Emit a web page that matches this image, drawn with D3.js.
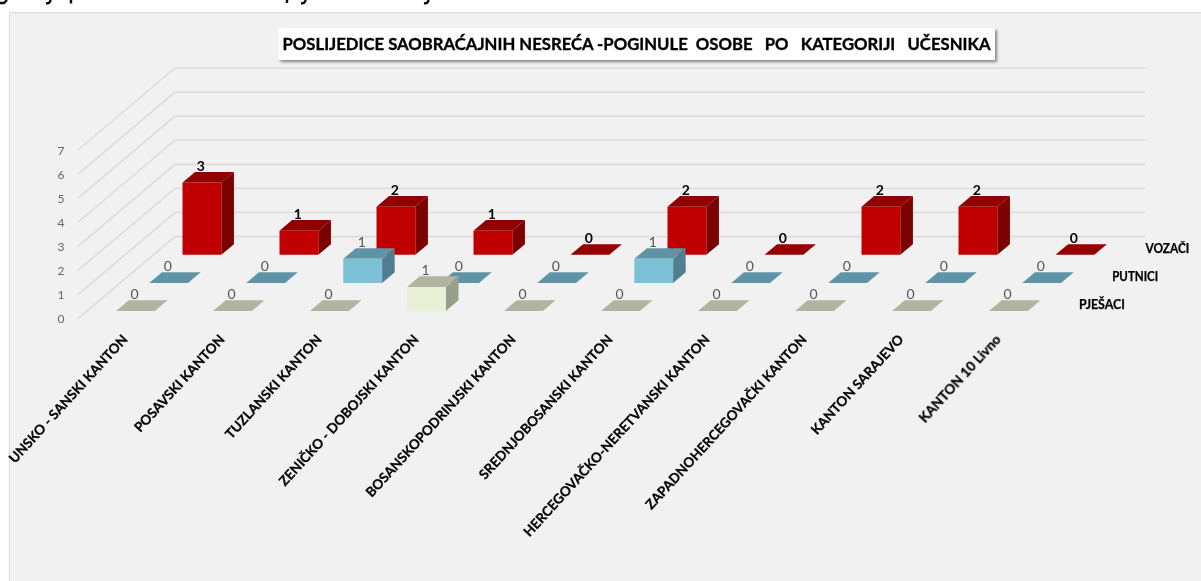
<!DOCTYPE html>
<html>
<head>
<meta charset="utf-8">
<style>
html,body{margin:0;padding:0;background:#fff;overflow:hidden}
svg{display:block}
text{font-family:Lato,"Open Sans",sans-serif;white-space:pre}
</style>
<script src="https://cdn.jsdelivr.net/npm/d3@7/dist/d3.min.js"></script>
</head>
<body>
<svg id="c" width="1201" height="581"></svg>
<script>
const titleText = "POSLIJEDICE SAOBRAĆAJNIH NESREĆA -POGINULE  OSOBE   PO   KATEGORIJI   UČESNIKA";
const categories = ["UNSKO - SANSKI KANTON","POSAVSKI KANTON","TUZLANSKI KANTON","ZENIČKO - DOBOJSKI KANTON","BOSANSKOPODRINJSKI KANTON","SREDNJOBOSANSKI KANTON","HERCEGOVAČKO-NERETVANSKI KANTON","ZAPADNOHERCEGOVAČKI KANTON","KANTON SARAJEVO","KANTON 10 Livno"];
const seriesNames = ["PJEŠACI","PUTNICI","VOZAČI"];
const pjesaci = [0,0,0,1,0,0,0,0,0,0];
const putnici = [0,0,1,0,0,1,0,0,0,0];
const vozaci  = [3,1,2,1,0,2,0,2,2,0];
const valueTicks = [0,1,2,3,4,5,6,7];

const seriesValues = {"PJEŠACI":pjesaci,"PUTNICI":putnici,"VOZAČI":vozaci};
const palette = {
  "VOZAČI":{front:"#c00000",top:"#900000",side:"#7c0000",flat:"#940000",label:"#000",weight:700,size:14},
  "PUTNICI":{front:"#7dc1d6",top:"#5f94a6",side:"#517f8f",flat:"#5f94a6",label:"#555",weight:400,size:14},
  "PJEŠACI":{front:"#e8f0d6",top:"#b1b5a0",side:"#9a9f89",flat:"#b1b5a0",label:"#555",weight:400,size:14}
};

const svg = d3.select("#c");
const defs = svg.append("defs");
defs.append("filter").attr("id","soft")
  .attr("filterUnits","userSpaceOnUse").attr("x",0).attr("y",0).attr("width",1201).attr("height",581)
  .append("feGaussianBlur").attr("stdDeviation",0.5);
const sh = defs.append("filter").attr("id","shadow").attr("filterUnits","userSpaceOnUse")
  .attr("x",260).attr("y",15).attr("width",760).attr("height",60);
sh.append("feDropShadow").attr("dx",2).attr("dy",2).attr("stdDeviation",1.6).attr("flood-color","#000").attr("flood-opacity",0.45);

// ink remnants of a page heading that the crop cuts off above the chart
svg.append("path").attr("fill","none").attr("stroke","#111").attr("stroke-width",2.4).attr("filter","url(#soft)")
  .attr("d","M0,3L4,3L7,0M46,3.5L49,3L51,0M71,0L71,3.5M287,0L287,3M301,3.5L304,3L306,0M424,3.5L427,3L429,0");

svg.append("rect").attr("x",9.5).attr("y",12.5).attr("width",1215).attr("height",590)
  .attr("fill","#f1f1f1").attr("stroke","#dddddd").attr("stroke-width",1.2);

const root = svg.append("g").attr("filter","url(#soft)");

// oblique 3-D projection
const originX = 78, originY = 318.6, depthDX = 97, depthDY = 82;
const x = d3.scaleBand().domain(categories).range([0,970]).paddingInner(0.6).paddingOuter(0.3);
const y = d3.scaleLinear().domain([0,7]).range([0,-168.6]);
const z = d3.scaleBand().domain(seriesNames).range([0,1]).paddingInner(0.62).paddingOuter(0.27);
const P = (px,v,d)=>[originX+px+d*depthDX, originY+y(v)-d*depthDY];
const poly = pts => "M"+pts.map(p=>p[0].toFixed(2)+","+p[1].toFixed(2)).join("L")+"Z";

// gridlines: side wall and back wall
const grid = root.append("g").attr("fill","none").attr("stroke","#dcdcdc").attr("stroke-width",1.6);
grid.selectAll("path").data(valueTicks).join("path")
  .attr("d",v=>{const a=P(0,v,0),b=P(0,v,1),c=P(970,v,1);return "M"+a+"L"+b+"L"+c;});

// value axis labels
root.append("g").selectAll("text").data(valueTicks).join("text")
  .attr("x",originX-17).attr("y",v=>P(0,v,0)[1]+1.5).attr("dominant-baseline","middle")
  .attr("text-anchor","middle").attr("font-size",12).attr("fill","#666").text(d=>d);

// bars back to front
["VOZAČI","PUTNICI","PJEŠACI"].forEach(name=>{
  const pal = palette[name], g = root.append("g");
  const d0 = z(name), d1 = d0+z.bandwidth();
  categories.forEach((cat,i)=>{
    const v = seriesValues[name][i], a = x(cat), b = a+x.bandwidth();
    if(v===0){
      g.append("path").attr("fill",pal.flat)
        .attr("d",poly([P(a,0,d0),P(b,0,d0),P(b,0,d1),P(a,0,d1)]));
    } else {
      g.append("path").attr("fill",pal.side).attr("d",poly([P(b,0,d0),P(b,v,d0),P(b,v,d1),P(b,0,d1)]));
      g.append("path").attr("fill",pal.top).attr("d",poly([P(a,v,d0),P(b,v,d0),P(b,v,d1),P(a,v,d1)]));
      g.append("path").attr("fill",pal.front).attr("d",poly([P(a,0,d0),P(b,0,d0),P(b,v,d0),P(a,v,d0)]));
    }
    const p = P((a+b)/2,v,d0);
    g.append("text").attr("x",p[0]-1).attr("y",p[1]-15.5).attr("dominant-baseline","middle")
      .attr("text-anchor","middle").attr("font-size",pal.size).attr("font-weight",pal.weight)
      .attr("fill",pal.label).text(v);
  });
  // depth axis label
  const pos = P(970,0,d0);
  root.append("text").attr("x",pos[0]+22).attr("y",pos[1]-5).attr("dominant-baseline","middle")
    .attr("font-size",12.5).attr("font-weight",700).attr("fill","#000").attr("stroke","#000").attr("stroke-width",0.25)
    .attr("textLength",name==="VOZAČI"?44:46).attr("lengthAdjust","spacingAndGlyphs").text(name);
});

// category labels
root.append("g").selectAll("text").data(categories).join("text")
  .attr("text-anchor","end").attr("font-size",13.5).attr("font-weight",700).attr("fill","#000")
  .attr("stroke","#000").attr("stroke-width",0.25)
  .attr("transform",d=>`translate(${x(d)+x.bandwidth()/2+originX+2},340) rotate(-47.5)`)
  .text(d=>d);

// title box
svg.append("rect").attr("x",278.5).attr("y",28).attr("width",716.5).attr("height",32)
  .attr("fill","#fff").attr("filter","url(#shadow)");
svg.append("text").attr("x",282.5).attr("y",50).attr("font-size",17).attr("font-weight",700)
  .attr("fill","#000").attr("stroke","#000").attr("stroke-width",0.35).attr("filter","url(#soft)")
  .attr("textLength",708).attr("lengthAdjust","spacingAndGlyphs").text(titleText);
</script>
</body>
</html>
